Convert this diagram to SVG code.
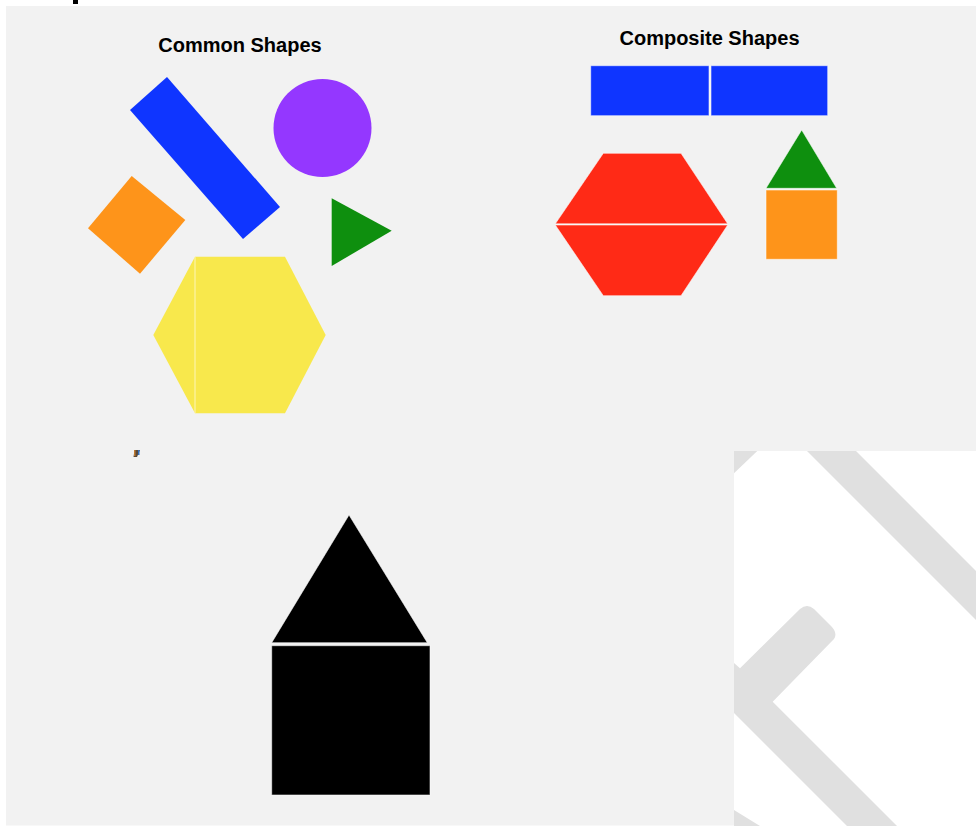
<svg xmlns="http://www.w3.org/2000/svg" width="976" height="826" viewBox="0 0 976 826">
  <defs>
    <style>
      .title { font-family: "Liberation Sans", Arial, sans-serif; font-weight: bold; font-size: 20px; fill: #000; text-anchor: middle; }
      .piece { stroke: #ffffff; stroke-opacity: 0.55; stroke-width: 1; }
      .band { fill: #e0e0e0; }
    </style>
    <clipPath id="whiteClip">
      <rect x="734" y="451" width="242" height="375"/>
    </clipPath>
  </defs>

  <rect x="0" y="0" width="976" height="826" fill="#ffffff"/>
  <rect x="6" y="6" width="970" height="819.5" fill="#f2f2f2"/>
  <rect x="73" y="0" width="5" height="4" fill="#000"/>

  <g id="common-shapes">
    <text class="title" x="240" y="51.5">Common Shapes</text>
    <g id="blue-bar"><polygon points="167,77 130,110 243,239 280,207" fill="#0f35ff"/></g>
    <g id="purple-circle"><circle cx="322.5" cy="128" r="49" fill="#9437ff"/></g>
    <g id="orange-square"><polygon points="131.7,176 185.3,220 140,273.7 88,228.3" fill="#fe941a"/></g>
    <g id="green-triangle"><polygon points="331.7,198.3 391.7,230.7 331.7,266" fill="#0e8f0e"/></g>
    <g id="yellow-hexagon">
      <polygon points="153.3,335 195,256.7 195,413.3" fill="#f8e84c"/>
      <polygon points="195,256.7 285,256.7 325.7,335 285,413.3 195,413.3" fill="#f8e84c"/>
      <line x1="195" y1="256.7" x2="195" y2="413.3" stroke="#fdf6b8" stroke-width="1"/>
    </g>
  </g>

  <g id="composite-shapes">
    <text class="title" x="709.5" y="44.5">Composite Shapes</text>
    <g id="blue-rects">
      <rect class="piece" x="590.7" y="65.7" width="118.3" height="50" fill="#0f35ff"/>
      <rect class="piece" x="711" y="65.7" width="116.7" height="50" fill="#0f35ff"/>
    </g>
    <g id="red-hexagon">
      <polygon class="piece" points="603.3,153.3 681,153.3 727.7,223.8 555.3,223.8" fill="#ff2a16"/>
      <polygon class="piece" points="555.3,225 727.7,225 681,295.7 603.3,295.7" fill="#ff2a16"/>
    </g>
    <g id="green-orange-house">
      <polygon class="piece" points="801.7,130 836.7,188.3 766,188.3" fill="#0e8f0e"/>
      <rect class="piece" x="766" y="190" width="71.3" height="69.3" fill="#fe941a"/>
    </g>
  </g>

  <g id="tick-mark">
    <polygon points="134.5,450 140,450 137,457 133.5,457" fill="#5a4a3a"/>
    <rect x="134" y="450" width="1.5" height="6" fill="#c07a30"/>
    <rect x="138" y="450" width="1.5" height="5" fill="#3070c0"/>
  </g>

  <g id="black-house">
    <polygon class="piece" points="349,515 427.3,642.7 271.7,642.7" fill="#000"/>
    <rect class="piece" x="271.7" y="645.7" width="158.3" height="149.3" fill="#000"/>
  </g>

  <g id="watermark">
    <rect x="734" y="451" width="242" height="375" fill="#ffffff"/>
    <g clip-path="url(#whiteClip)">
      <polygon class="band" points="734,451 757.3,451 734,473.3"/>
      <polygon class="band" points="807,451 856,451 1100,695 1100,744"/>
      <path class="band" d="M700,629 L734,663 L740,668.3 L800,609 Q807,603 814,609 L831,626 Q838,633 834,639 L772.7,701.7 L897,826 L847,826 L734,713 L700,679 Z"/>
      <polygon class="band" points="734,810 760,826 734,826"/>
    </g>
  </g>
</svg>
